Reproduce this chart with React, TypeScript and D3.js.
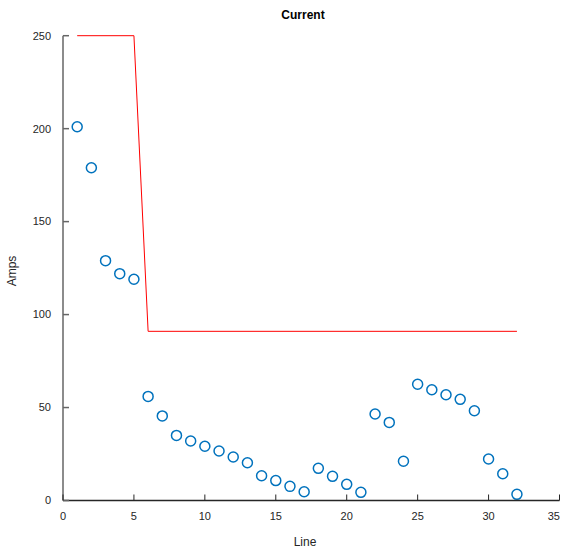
import React from "react";
import * as d3 from "d3";

const lineNums = d3.range(1, 33);
const amps = [201, 179, 129, 122, 119, 56, 45.5, 35, 32, 29.2, 26.6, 23.4, 20.3, 13.3, 10.7, 7.6, 4.7, 17.3, 13, 8.7, 4.4, 46.5, 42, 21.1, 62.5, 59.6, 56.9, 54.4, 48.3, 22.3, 14.4, 3.3];
const limitX = [1, 5, 6, 32];
const limitY = [250, 250, 91, 91];
const xTicks = [0, 5, 10, 15, 20, 25, 30, 35];
const yTicks = [0, 50, 100, 150, 200, 250];

export default function App() {
  const W = 564, H = 551;
  const x = d3.scaleLinear().domain([0, 35]).range([63, 559.5]);
  const y = d3.scaleLinear().domain([0, 250]).range([500.5, 35.7]);
  const line = d3.line<number>().x((_, i) => x(limitX[i])).y((d) => y(d));
  const font = "'Liberation Sans', Arial, sans-serif";
  return (
    <svg width={W} height={H} style={{ position: "absolute", left: 0, top: 0 }} fontFamily={font}>
      <rect width={W} height={H} fill="#fff" />
      <path d={line(limitY) || ""} fill="none" stroke="#ff0000" strokeWidth={1} />
      {amps.map((v, i) => (
        <circle key={i} cx={x(lineNums[i])} cy={y(v)} r={5} fill="none" stroke="#0072BD" strokeWidth={1.5} />
      ))}
      <line x1={x(0)} x2={x(0)} y1={y(0)} y2={y(250)} stroke="#666" strokeWidth={1.5} />
      <line x1={x(0)} x2={x(35)} y1={y(0)} y2={y(0)} stroke="#262626" strokeWidth={1.5} />
      {yTicks.map((t) => (
        <g key={t}>
          <line x1={x(0)} x2={x(0) + 6} y1={y(t)} y2={y(t)} stroke="#666" strokeWidth={1.5} />
          <text x={51} y={y(t)} dy="0.35em" textAnchor="end" fontSize={11} fill="#262626">{t}</text>
        </g>
      ))}
      {xTicks.map((t, i) => {
        const last = i === xTicks.length - 1;
        return (
          <g key={t}>
            <line x1={x(t)} x2={x(t)} y1={y(0)} y2={y(0) - 6} stroke="#262626" strokeWidth={1} />
            <text x={last ? 560 : x(t)} y={520} textAnchor={last ? "end" : "middle"} fontSize={11} fill="#262626">{t}</text>
          </g>
        );
      })}
      <text x={303} y={19} textAnchor="middle" fontSize={12} fontWeight="bold" fill="#000">Current</text>
      <text x={305} y={546} textAnchor="middle" fontSize={12} fill="#262626">Line</text>
      <text transform="translate(16,271) rotate(-90)" textAnchor="middle" fontSize={12} fill="#262626">Amps</text>
    </svg>
  );
}
